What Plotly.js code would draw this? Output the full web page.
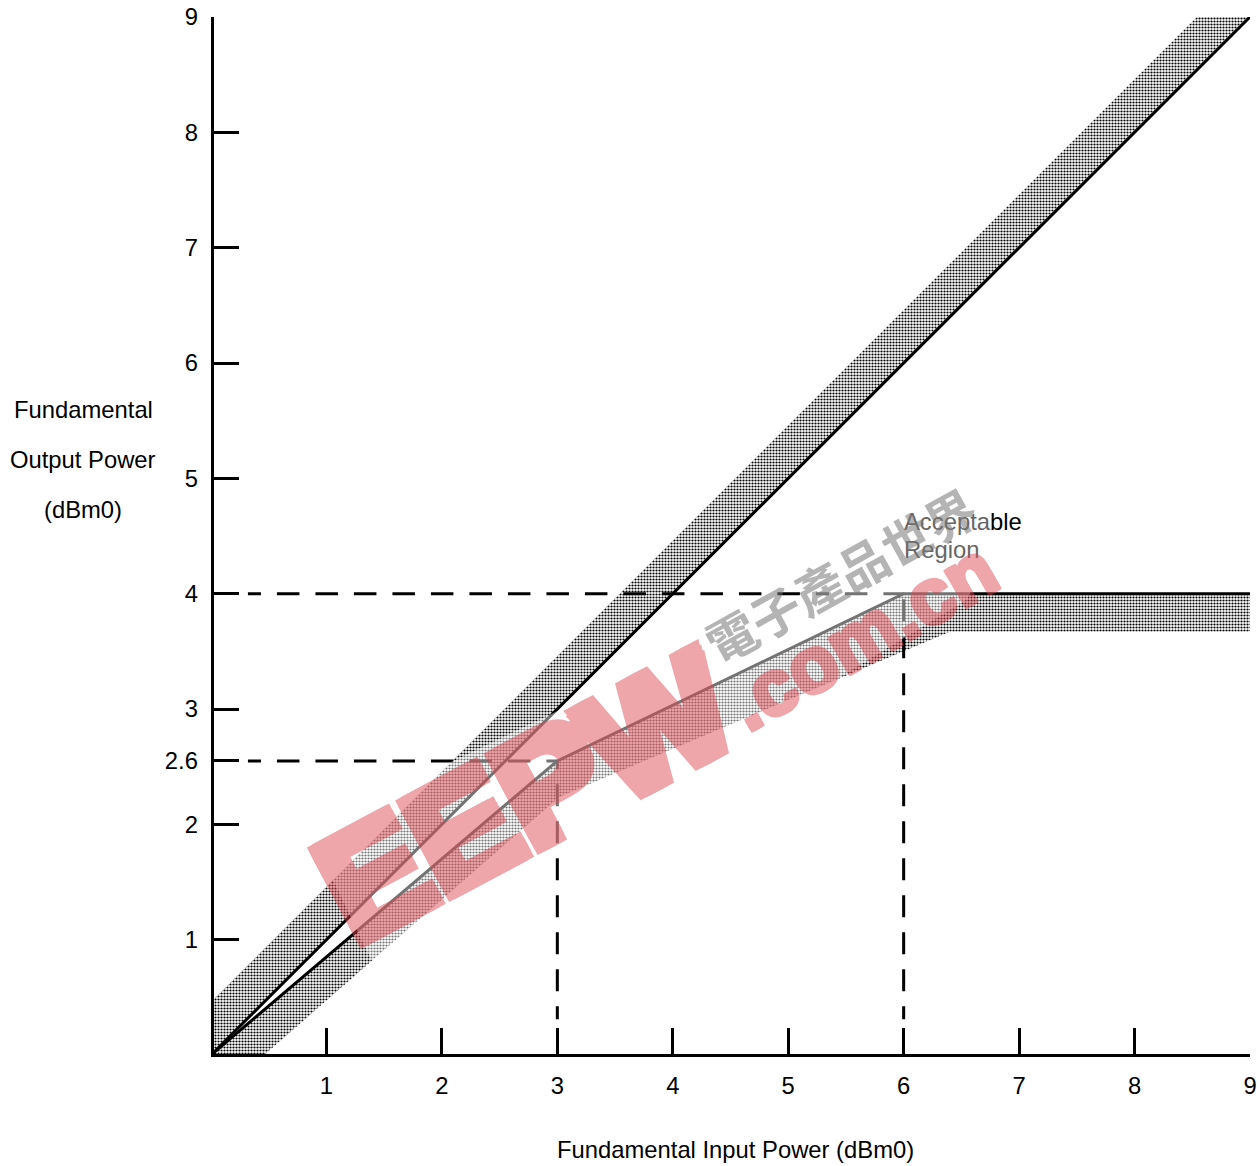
<!DOCTYPE html>
<html><head><meta charset="utf-8">
<script src="https://cdn.plot.ly/plotly-3.0.1.min.js"></script>
<style>html,body{margin:0;padding:0;background:#fff}#c{width:1260px;height:1166px}</style>
</head><body><div id="c"></div>
<script>
const xTickValues=[1,2,3,4,5,6,7,8,9];
const xTickLabels=['1','2','3','4','5','6','7','8','9'];
const yTickValues=[1,2,2.55,3,4,5,6,7,8,9];
const yTickLabels=['1','2','2.6','3','4','5','6','7','8','9'];
const upperLineX=[0,9], upperLineY=[0,9];
const lowerLineX=[0,3,6,9], lowerLineY=[0,2.55,4,4];
const upperBandX=[0,0,8.54,9,0], upperBandY=[0,0.46,9,9,0];
const lowerBandX=[0,3,6,9,9,6.4,3.02,0.46,0], lowerBandY=[0,2.55,4,4,3.67,3.67,2.24,0,0];
const guideLow={hx:[0.32,3],hy:[2.55,2.55],vx:[3,3],vy:[0.31,2.55]};
const guideHigh={hx:[0.32,6],hy:[4,4],vx:[6,6],vy:[0.31,4]};
const hazeX=[0.85,1.4,6.55,7.0,0.85], hazeY=[1.95,0.8,3.95,4.9,1.95];
const font='"Liberation Sans", Arial, sans-serif';
const hatch={shape:'.',size:3,solidity:0.42,fgcolor:'#000',bgcolor:'#fff',fillmode:'replace'};
const dashH='13px,16px,'+Array(14).fill('22.5px,16px').join(',');
const dashV='13px,15px,'+Array(14).fill('22px,15px').join(',');
const base={mode:'lines',hoverinfo:'skip',showlegend:false,cliponaxis:false};
const guideTrace=(x,y,dash)=>({...base,x,y,line:{color:'#000',width:3,dash}});
const traces=[
 {...base,x:upperBandX,y:upperBandY,fill:'toself',fillcolor:'#888',fillpattern:hatch,line:{width:0}},
 {...base,x:lowerBandX,y:lowerBandY,fill:'toself',fillcolor:'#888',fillpattern:hatch,line:{width:0}},
 guideTrace(guideLow.hx,guideLow.hy,dashH),guideTrace(guideLow.vx,guideLow.vy,dashV),
 guideTrace(guideHigh.hx,guideHigh.hy,dashH),guideTrace(guideHigh.vx,guideHigh.vy,dashV),
 {...base,x:upperLineX,y:upperLineY,line:{color:'#000',width:3}},
 {...base,x:lowerLineX,y:lowerLineY,line:{color:'#000',width:3}},
 {...base,x:hazeX,y:hazeY,fill:'toself',fillcolor:'rgba(255,255,255,0.45)',line:{width:0}}
];
const paperText=(text,x,y,anchor)=>({text,xref:'paper',yref:'paper',x:(x-211)/1039,y:(1055-(y-1))/1038,xanchor:anchor||'center',yanchor:'middle',align:'left',showarrow:false,font:{family:font,size:23.8,color:'#000'}});
const fatten=(r,c)=>[[r,0],[-r,0],[0,r],[0,-r],[r,r],[-r,r],[r,-r],[-r,-r]].map(([a,b])=>`${a}px ${b}px 0 ${c}`).join(',');
const mark=(text,x,y,size,color,opacity,angle,fam,fat)=>({text,xref:'x',yref:'y',x,y,xanchor:'center',yanchor:'middle',showarrow:false,textangle:angle,opacity,font:{family:fam,size,color,weight:'bold',shadow:fat?fatten(fat,color):'none'}});
const axisCommon={range:[0,9],ticks:'inside',tickwidth:3,tickcolor:'#000',showgrid:false,zeroline:false,showline:true,linewidth:3,linecolor:'#000',anchor:'free'};
const layout={
 width:1260,height:1166,margin:{l:211,r:10,t:17,b:111},paper_bgcolor:'#fff',plot_bgcolor:'#fff',showlegend:false,
 font:{family:font,size:23.8,color:'#000'},
 xaxis:{...axisCommon,position:0,tickvals:xTickValues,ticktext:xTickLabels,ticklen:26,ticklabelstandoff:8},
 yaxis:{...axisCommon,position:0.0007,tickvals:yTickValues,ticktext:yTickLabels,ticklen:25,ticklabelstandoff:8},
 annotations:[
  paperText('Fundamental',83,410),paperText('Output Power',83,460),paperText('(dBm0)',83,510),
  paperText('Fundamental Input Power (dBm0)',735.5,1150),
  paperText('<span style="color:#666">Accepta</span>ble',901.5,522,'left'),
  paperText('<span style="color:#666">Region</span>',901.5,550,'left'),
  mark('EEPW',2.72,2.25,150,'#de4650',0.48,-28,'"Liberation Sans"',6),
  mark('.com.cn',5.64,3.63,78,'#de4650',0.48,-30,'"Liberation Sans"',2),
  mark('電子產品世界',5.45,4.17,50,'#787878',0.55,-29,'"Noto Sans CJK TC"',0)
 ]
};
Plotly.newPlot('c',traces,layout,{displayModeBar:false,staticPlot:true});
</script></body></html>
